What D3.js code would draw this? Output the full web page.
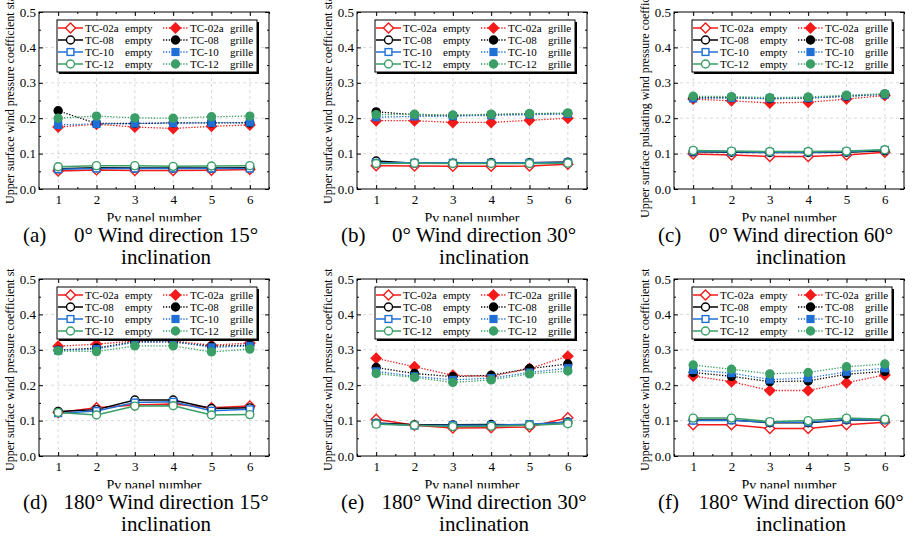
<!DOCTYPE html>
<html>
<head>
<meta charset="utf-8">
<script src="https://cdn.jsdelivr.net/npm/d3@7"></script>
<style>
  body { margin: 0; background: #fff; }
  svg { display: block; font-family: "Liberation Serif", "Times New Roman", serif; }
  text { font-family: "Liberation Serif", "Times New Roman", serif; fill: #000; }
</style>
</head>
<body>
<script>
// panel numbers on the x axis and y ticks
var panelNumbers = [1, 2, 3, 4, 5, 6];
var yTicks = [0.0, 0.1, 0.2, 0.3, 0.4, 0.5];

// series: TC-02a, TC-08, TC-10, TC-12
var seriesNames = ["TC-02a", "TC-08", "TC-10", "TC-12"];
var conditions = ["empty", "grille"];

var captionLetters = ["(a)", "(b)", "(c)", "(d)", "(e)", "(f)"];
var captionTexts = [
  "0° Wind direction 15°", "0° Wind direction 30°", "0° Wind direction 60°",
  "180° Wind direction 15°", "180° Wind direction 30°", "180° Wind direction 60°"
];
var yTitles = [
  "Upper surface wind pressure coefficient standard deviation",
  "Upper surface wind pressure coefficient standard deviation",
  "Upper surface pulsating wind pressure coefficient standard deviation",
  "Upper surface wind pressure coefficient standard deviation",
  "Upper surface wind pressure coefficient standard deviation",
  "Upper surface wind pressure coefficient standard deviation"
];

// (a) 0° / 15°
var aEmpty = [
  [0.051, 0.054, 0.052, 0.052, 0.053, 0.055],
  [0.057, 0.060, 0.059, 0.059, 0.059, 0.060],
  [0.056, 0.058, 0.058, 0.058, 0.058, 0.058],
  [0.063, 0.066, 0.066, 0.064, 0.065, 0.066]
];
var aGrille = [
  [0.175, 0.183, 0.175, 0.171, 0.177, 0.181],
  [0.221, 0.185, 0.185, 0.187, 0.187, 0.187],
  [0.181, 0.184, 0.185, 0.186, 0.187, 0.188],
  [0.200, 0.206, 0.201, 0.200, 0.204, 0.206]
];
// (b) 0° / 30°
var bEmpty = [
  [0.066, 0.065, 0.064, 0.064, 0.065, 0.070],
  [0.079, 0.073, 0.073, 0.074, 0.074, 0.076],
  [0.074, 0.074, 0.074, 0.074, 0.074, 0.075],
  [0.072, 0.073, 0.072, 0.072, 0.072, 0.073]
];
var bGrille = [
  [0.193, 0.193, 0.188, 0.188, 0.194, 0.200],
  [0.218, 0.210, 0.207, 0.210, 0.212, 0.213],
  [0.203, 0.205, 0.206, 0.208, 0.210, 0.212],
  [0.210, 0.211, 0.209, 0.211, 0.213, 0.215]
];
// (c) 0° / 60°
var cEmpty = [
  [0.099, 0.096, 0.092, 0.092, 0.096, 0.104],
  [0.105, 0.104, 0.103, 0.103, 0.104, 0.108],
  [0.106, 0.105, 0.104, 0.104, 0.105, 0.110],
  [0.109, 0.107, 0.106, 0.106, 0.107, 0.111]
];
var cGrille = [
  [0.254, 0.249, 0.243, 0.245, 0.254, 0.264],
  [0.258, 0.258, 0.255, 0.257, 0.262, 0.268],
  [0.256, 0.257, 0.256, 0.257, 0.262, 0.267],
  [0.262, 0.261, 0.258, 0.260, 0.265, 0.269]
];
// (d) 180° / 15°
var dEmpty = [
  [0.123, 0.136, 0.144, 0.147, 0.136, 0.141],
  [0.126, 0.131, 0.158, 0.158, 0.134, 0.136],
  [0.121, 0.127, 0.151, 0.153, 0.128, 0.132],
  [0.123, 0.116, 0.141, 0.142, 0.116, 0.117]
];
var dGrille = [
  [0.310, 0.316, 0.325, 0.325, 0.313, 0.319],
  [0.299, 0.305, 0.323, 0.322, 0.310, 0.313],
  [0.298, 0.302, 0.321, 0.324, 0.307, 0.311],
  [0.297, 0.295, 0.311, 0.311, 0.294, 0.302]
];
// (e) 180° / 30°
var eEmpty = [
  [0.104, 0.087, 0.079, 0.080, 0.082, 0.108],
  [0.093, 0.088, 0.088, 0.089, 0.088, 0.096],
  [0.092, 0.086, 0.087, 0.087, 0.090, 0.095],
  [0.090, 0.087, 0.083, 0.084, 0.087, 0.091]
];
var eGrille = [
  [0.276, 0.252, 0.228, 0.225, 0.247, 0.282],
  [0.250, 0.233, 0.224, 0.228, 0.247, 0.260],
  [0.239, 0.225, 0.215, 0.220, 0.236, 0.248],
  [0.233, 0.222, 0.208, 0.215, 0.232, 0.240]
];
// (f) 180° / 60°
var fEmpty = [
  [0.088, 0.088, 0.078, 0.078, 0.088, 0.095],
  [0.102, 0.102, 0.094, 0.094, 0.102, 0.102],
  [0.100, 0.101, 0.095, 0.095, 0.103, 0.102],
  [0.107, 0.107, 0.097, 0.100, 0.107, 0.104]
];
var fGrille = [
  [0.226, 0.210, 0.185, 0.185, 0.207, 0.229],
  [0.236, 0.225, 0.210, 0.212, 0.231, 0.239],
  [0.243, 0.234, 0.216, 0.220, 0.238, 0.248],
  [0.257, 0.245, 0.232, 0.236, 0.252, 0.260]
];

var emptyData = [aEmpty, bEmpty, cEmpty, dEmpty, eEmpty, fEmpty];
var grilleData = [aGrille, bGrille, cGrille, dGrille, eGrille, fGrille];

// look
var colors = ["#f41a1a", "#000000", "#1f6fd6", "#3a9f66"];
var shapes = ["diamond", "circle", "square", "circle"];
var serif = "Liberation Serif, Times New Roman, serif";

var plotLefts = [39, 357, 674];
var plotTops = [12, 279];
var rowClips = [0, 269];
var W = 230, H = 177;

var svg = d3.select("body")
  .append("svg")
  .attr("width", 912)
  .attr("height", 541);

var defs = svg.append("defs");

// draw one marker shape into a selection
function marker(sel, shape, color, filled) {
  var fill = filled ? color : "#fff";
  if (shape === "circle") {
    return sel.append("circle").attr("r", 4)
      .attr("fill", fill).attr("stroke", color).attr("stroke-width", 1.4);
  }
  if (shape === "square") {
    return sel.append("rect").attr("x", -3.4).attr("y", -3.4)
      .attr("width", 6.8).attr("height", 6.8)
      .attr("fill", fill).attr("stroke", color).attr("stroke-width", 1.4);
  }
  return sel.append("path").attr("d", "M0,-5L5,0L0,5L-5,0Z")
    .attr("fill", fill).attr("stroke", color).attr("stroke-width", 1.4);
}

var x = d3.scaleLinear().domain([0.5, 6.5]).range([0, W]);
var y = d3.scaleLinear().domain([0, 0.5]).range([H, 0]);

var line = d3.line()
  .x(function(d, i) { return x(panelNumbers[i]); })
  .y(function(d) { return y(d); });

function drawPanel(p) {
  var col = p % 3, row = Math.floor(p / 3);
  var px = plotLefts[col], py = plotTops[row];
  var g = svg.append("g").attr("transform", "translate(" + px + "," + py + ")");

  // grid
  g.selectAll(".hgrid")
    .data(yTicks.filter(function(v) { return v > 0 && v < 0.5; }))
    .enter().append("line")
    .attr("x1", 0).attr("x2", W)
    .attr("y1", function(d) { return y(d); })
    .attr("y2", function(d) { return y(d); })
    .attr("stroke", "#cfcfcf").attr("stroke-width", 0.8)
    .attr("stroke-dasharray", "3,3");
  g.selectAll(".vgrid")
    .data(panelNumbers)
    .enter().append("line")
    .attr("y1", 0).attr("y2", H)
    .attr("x1", function(d) { return x(d); })
    .attr("x2", function(d) { return x(d); })
    .attr("stroke", "#cfcfcf").attr("stroke-width", 0.8)
    .attr("stroke-dasharray", "3,3");

  // axes with inward ticks
  var halves = panelNumbers.map(function(d) { return d - 0.5; }).concat([6.5]);
  var yMinor = [0.05, 0.15, 0.25, 0.35, 0.45];

  var ax = g.append("g").attr("transform", "translate(0," + H + ")")
    .call(d3.axisBottom(x).tickValues(panelNumbers).tickSize(-4).tickPadding(6).tickFormat(d3.format("d")));
  var ay = g.append("g")
    .call(d3.axisLeft(y).tickValues(yTicks).tickSize(-4).tickPadding(3).tickFormat(d3.format(".1f")));
  g.append("g").attr("transform", "translate(" + W + ",0)")
    .call(d3.axisRight(y).tickValues(yTicks).tickSize(-4).tickFormat(""));
  g.append("g")
    .call(d3.axisTop(x).tickValues(panelNumbers).tickSize(-4).tickFormat(""));
  g.append("g").attr("transform", "translate(0," + H + ")")
    .call(d3.axisBottom(x).tickValues(halves).tickSize(-2).tickFormat(""));
  g.append("g")
    .call(d3.axisTop(x).tickValues(halves).tickSize(-2).tickFormat(""));
  g.append("g")
    .call(d3.axisLeft(y).tickValues(yMinor).tickSize(-2).tickFormat(""));
  g.append("g").attr("transform", "translate(" + W + ",0)")
    .call(d3.axisRight(y).tickValues(yMinor).tickSize(-2).tickFormat(""));
  g.selectAll(".domain").remove();
  g.selectAll(".tick line").attr("stroke", "#000");
  ax.attr("font-family", serif).attr("font-size", 13);
  ay.attr("font-family", serif).attr("font-size", 13);

  // frame
  g.append("rect").attr("width", W).attr("height", H)
    .attr("fill", "none").attr("stroke", "#000").attr("stroke-width", 1);

  // series lines and markers
  [emptyData[p], grilleData[p]].forEach(function(group, k) {
    group.forEach(function(vals, i) {
      g.append("path")
        .attr("d", line(vals))
        .attr("fill", "none")
        .attr("stroke", colors[i])
        .attr("stroke-width", k === 0 ? 1.5 : 1.3)
        .attr("stroke-dasharray", k === 0 ? null : "1.3,1.6");
    });
    group.forEach(function(vals, i) {
      vals.forEach(function(v, j) {
        var m = g.append("g")
          .attr("transform", "translate(" + x(panelNumbers[j]) + "," + y(v) + ")");
        marker(m, shapes[i], colors[i], k === 1);
      });
    });
  });

  // legend
  var lg = g.append("g").attr("transform", "translate(18,8)");
  lg.append("rect").attr("x", 2).attr("y", 2).attr("width", 200).attr("height", 52).attr("fill", "#000");
  lg.append("rect").attr("width", 200).attr("height", 52)
    .attr("fill", "#fff").attr("stroke", "#000").attr("stroke-width", 1);
  seriesNames.forEach(function(name, i) {
    var ly = 8 + 12 * i;
    conditions.forEach(function(cond, k) {
      var ox = k === 0 ? 0 : 105;
      lg.append("line")
        .attr("x1", ox + 1).attr("x2", ox + 26).attr("y1", ly).attr("y2", ly)
        .attr("stroke", colors[i])
        .attr("stroke-width", k === 0 ? 1.5 : 1.3)
        .attr("stroke-dasharray", k === 0 ? null : "1.3,1.6");
      var m = lg.append("g").attr("transform", "translate(" + (ox + 13.5) + "," + ly + ")");
      marker(m, shapes[i], colors[i], k === 1);
      lg.append("text").attr("x", ox + 28).attr("y", ly + 3.8)
        .style("font-size", "11px").text(name);
      lg.append("text").attr("x", k === 0 ? 68 : 173).attr("y", ly + 3.8)
        .style("font-size", "11px").text(cond);
    });
  });

  // y title (clipped at the top of the cell)
  var cy = "clipy" + p;
  defs.append("clipPath").attr("id", cy).append("rect")
    .attr("x", px - 50).attr("y", rowClips[row]).attr("width", 50).attr("height", 300);
  var yx = px - 25, yy = py + H + (p === 2 ? 29 : 15);
  svg.append("g").attr("clip-path", "url(#" + cy + ")")
    .append("text")
    .attr("transform", "translate(" + yx + "," + yy + ") rotate(-90)")
    .style("font-size", "12px")
    .text(yTitles[p]);

  // x title (clipped at the bottom)
  var cx = "clipx" + p;
  defs.append("clipPath").attr("id", cx).append("rect")
    .attr("x", px - 10).attr("y", py + H + 15).attr("width", W + 20).attr("height", 17.5);
  svg.append("g").attr("clip-path", "url(#" + cx + ")")
    .append("text")
    .attr("x", px + W / 2).attr("y", py + H + 34)
    .attr("text-anchor", "middle")
    .style("font-size", "14px")
    .text("Pv panel number");

  // caption
  svg.append("text").attr("x", px - 16).attr("y", py + H + 53)
    .style("font-size", "21px").text(captionLetters[p]);
  svg.append("text").attr("x", px + 127).attr("y", py + H + 53)
    .attr("text-anchor", "middle")
    .style("font-size", "21px").text(captionTexts[p]);
  svg.append("text").attr("x", px + 127).attr("y", py + H + 75)
    .attr("text-anchor", "middle")
    .style("font-size", "21px").text("inclination");
}

for (var p = 0; p < 6; p++) drawPanel(p);
</script>
</body>
</html>
